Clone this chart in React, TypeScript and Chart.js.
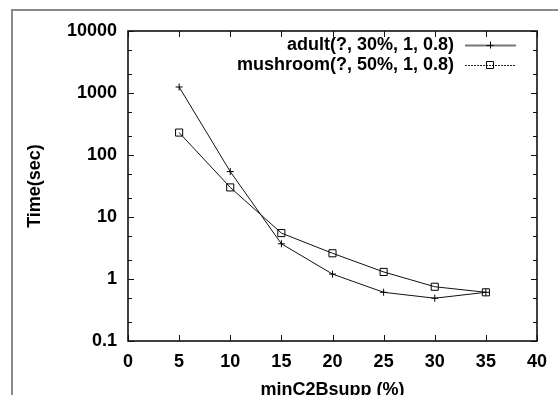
import { useEffect, useRef } from "react";
import { Chart, registerables } from "chart.js";

Chart.register(...registerables);

const minSupp = [5, 10, 15, 20, 25, 30, 35];
const adultTime = [1250, 54, 3.7, 1.2, 0.61, 0.49, 0.61];
const mushroomTime = [230, 30, 5.5, 2.6, 1.3, 0.75, 0.61];
const seriesLabels = ["adult(?, 30%, 1, 0.8)", "mushroom(?, 50%, 1, 0.8)"];
const xTickValues = [0, 5, 10, 15, 20, 25, 30, 35, 40];
const yTickValues = [0.1, 1, 10, 100, 1000, 10000];
const xTitle = "minC2Bsupp (%)";
const yTitle = "Time(sec)";

const FONT = "'Liberation Sans', Arial, Helvetica, sans-serif";

const framePlugin = {
  id: "frame",
  beforeDraw(chart: any) {
    const ctx = chart.ctx;
    ctx.save();
    ctx.strokeStyle = "#8a8a8a";
    ctx.lineWidth = 2;
    ctx.beginPath();
    ctx.moveTo(12, 400);
    ctx.lineTo(12, 10);
    ctx.lineTo(560, 10);
    ctx.stroke();
    ctx.restore();
  },
};

const axesPlugin = {
  id: "gnuAxes",
  afterDatasetsDraw(chart: any) {
    const { ctx, chartArea } = chart;
    const { left, right, top, bottom } = chartArea;
    const xs = chart.scales.x;
    const ys = chart.scales.y;
    ctx.save();
    ctx.strokeStyle = "#111";
    ctx.lineWidth = 1;
    ctx.beginPath();
    xTickValues.forEach((v) => {
      const px = Math.round(xs.getPixelForValue(v)) + 0.5;
      ctx.moveTo(px, bottom);
      ctx.lineTo(px, bottom - 6);
      ctx.moveTo(px, top);
      ctx.lineTo(px, top + 6);
    });
    yTickValues.forEach((v, i) => {
      const py = Math.round(ys.getPixelForValue(v)) + 0.5;
      ctx.moveTo(left, py);
      ctx.lineTo(left + 6, py);
      ctx.moveTo(right, py);
      ctx.lineTo(right - 6, py);
      if (i < yTickValues.length - 1) {
        [2, 5].forEach((m) => {
          const pm = Math.round(ys.getPixelForValue(v * m)) + 0.5;
          ctx.moveTo(left, pm);
          ctx.lineTo(left + 4, pm);
          ctx.moveTo(right, pm);
          ctx.lineTo(right - 4, pm);
        });
      }
    });
    ctx.stroke();
    ctx.lineWidth = 1.6;
    ctx.strokeRect(left, top, right - left, bottom - top);
    ctx.restore();
  },
};

const legendPlugin = {
  id: "gnuLegend",
  afterDatasetsDraw(chart: any) {
    const ctx = chart.ctx;
    ctx.save();
    ctx.font = `bold 18px ${FONT}`;
    ctx.textAlign = "right";
    ctx.textBaseline = "middle";
    const rows = [45, 65];
    chart.data.datasets.forEach((ds: any, i: number) => {
      const y = rows[i];
      ctx.fillStyle = "#000";
      ctx.fillText(ds.label, 454, y);
      ctx.beginPath();
      if (i === 0) {
        ctx.strokeStyle = "#777";
        ctx.lineWidth = 2;
        ctx.setLineDash([]);
      } else {
        ctx.strokeStyle = "#222";
        ctx.lineWidth = 1;
        ctx.setLineDash([2, 1]);
      }
      ctx.moveTo(465, y + 0.5);
      ctx.lineTo(516, y + 0.5);
      ctx.stroke();
      ctx.setLineDash([]);
      ctx.strokeStyle = "#000";
      ctx.lineWidth = 1;
      ctx.beginPath();
      if (i === 0) {
        ctx.moveTo(490 - 3.5, y + 0.5);
        ctx.lineTo(490 + 3.5, y + 0.5);
        ctx.moveTo(490.5, y - 3.5);
        ctx.lineTo(490.5, y + 3.5);
      } else {
        ctx.rect(486.5, y - 3.5, 7, 7);
      }
      ctx.stroke();
    });
    ctx.restore();
  },
};

export default function App() {
  const canvasRef = useRef<HTMLCanvasElement | null>(null);

  useEffect(() => {
    document.body.style.margin = "0";
    const canvas = canvasRef.current;
    if (!canvas) return;
    const chart = new Chart(canvas, {
      type: "line",
      data: {
        datasets: [
          {
            label: seriesLabels[0],
            data: minSupp.map((x, i) => ({ x, y: adultTime[i] })),
            borderColor: "#111",
            borderWidth: 1,
            pointStyle: "cross",
            pointRadius: 3.5,
            pointBorderColor: "#000",
            pointBorderWidth: 1,
            pointBackgroundColor: "transparent",
            fill: false,
            tension: 0,
          },
          {
            label: seriesLabels[1],
            data: minSupp.map((x, i) => ({ x, y: mushroomTime[i] })),
            borderColor: "#111",
            borderWidth: 1,
            pointStyle: "rect",
            pointRadius: 5,
            pointBorderColor: "#000",
            pointBorderWidth: 1,
            pointBackgroundColor: "transparent",
            fill: false,
            tension: 0,
          },
        ],
      },
      options: {
        animation: false,
        responsive: true,
        maintainAspectRatio: false,
        layout: { padding: { top: 31, right: 21, left: 0, bottom: 0 } },
        plugins: {
          legend: { display: false },
          tooltip: { enabled: false },
        },
        scales: {
          x: {
            type: "linear",
            min: 0,
            max: 40,
            afterBuildTicks: (scale: any) => {
              scale.ticks = xTickValues.map((v) => ({ value: v }));
            },
            afterFit: (scale: any) => {
              scale.height = 54;
            },
            grid: { display: false, drawTicks: false },
            border: { display: false },
            ticks: {
              padding: 10,
              color: "#000",
              font: { family: FONT, size: 18, weight: "bold" },
              maxRotation: 0,
              autoSkip: false,
            },
            title: {
              display: true,
              text: xTitle,
              color: "#000",
              font: { family: FONT, size: 18, weight: "bold" },
              padding: { top: 0, bottom: -6 },
            },
          },
          y: {
            type: "logarithmic",
            min: 0.1,
            max: 10000,
            afterBuildTicks: (scale: any) => {
              scale.ticks = yTickValues.map((v) => ({ value: v }));
            },
            afterFit: (scale: any) => {
              scale.width = 128;
            },
            grid: { display: false, drawTicks: false },
            border: { display: false },
            ticks: {
              padding: 11,
              color: "#000",
              font: { family: FONT, size: 18, weight: "bold" },
              autoSkip: false,
              callback: (v: any) => String(v),
            },
            title: {
              display: true,
              text: yTitle,
              color: "#000",
              font: { family: FONT, size: 18, weight: "bold" },
              padding: { top: 24, bottom: 0 },
            },
          },
        },
      },
      plugins: [framePlugin, axesPlugin, legendPlugin],
    });
    return () => chart.destroy();
  }, []);

  return (
    <div style={{ position: "relative", width: 558, height: 395 }}>
      <canvas ref={canvasRef} />
    </div>
  );
}
